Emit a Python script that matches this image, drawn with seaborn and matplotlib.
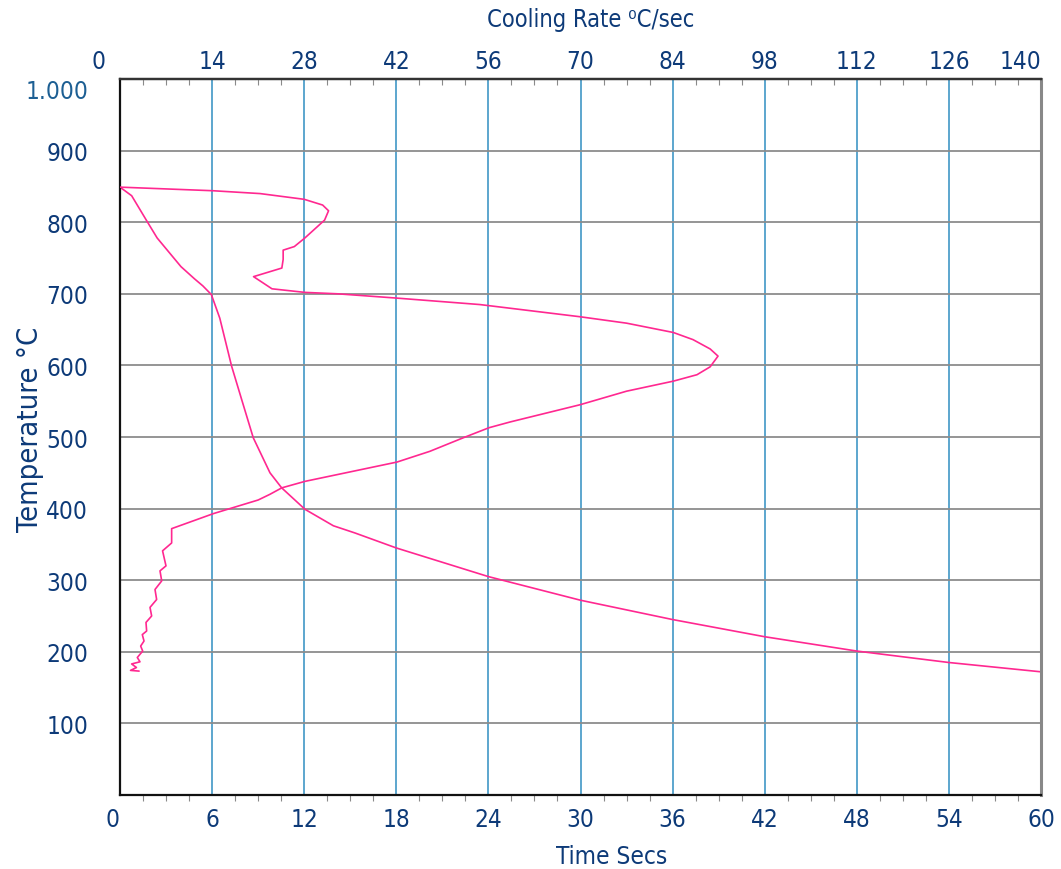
"""
Cooling curve of a quenched part: temperature against time (bottom axis)
and temperature against cooling rate (top axis).
"""
import matplotlib
matplotlib.use("Agg")
import matplotlib.pyplot as plt
from matplotlib.ticker import MultipleLocator
import pandas as pd
import seaborn as sns

# ------------------------------------------------------------------
# data
# ------------------------------------------------------------------
time_s = [0, 0.76, 1.74, 2.42, 3.97, 4.85, 5.4, 5.95, 6.5, 7.27, 7.93, 8.68,
          9.77, 10.53, 12.05, 13.9, 15.3, 18.0, 24.0, 30.0, 36.0, 42.0, 48.0, 54.0, 60.0]
time_temp = [849, 837, 802, 778, 738, 721, 711, 699, 666, 599, 552, 499,
             450, 429, 399, 376, 366, 345, 305, 272, 245, 221, 201, 185, 172]

rate = [0, 14.1, 21.3, 28.0, 30.8, 31.7, 31.1, 28.1, 26.5, 24.8, 24.8, 24.6,
        20.3, 23.1, 28.1, 33.1, 42.1, 54.7, 69.9, 77.0, 84.1, 87.1, 89.7, 90.9,
        89.7, 87.7, 84.1, 77.0, 69.9, 59.3, 56.1, 52.2, 47.1, 42.1, 28.1, 24.6,
        22.8, 21.0, 14.2, 7.85, 7.85, 6.47, 6.99, 6.08, 6.34, 5.32, 5.57, 4.56,
        4.81, 3.95, 4.05, 3.39, 3.65, 3.14, 3.45, 2.63, 3.04, 1.77, 2.5, 1.6, 2.9]
rate_temp = [849, 844, 840, 832, 824, 816, 803, 778, 766, 761, 748, 736,
             724, 707, 702, 700, 694, 685, 668, 659, 646, 636, 623, 613,
             598, 587, 578, 564, 545, 521, 513, 499, 480, 465, 438, 429,
             420, 412, 393, 372, 352, 341, 320, 313, 299, 287, 273, 262,
             250, 241, 229, 224, 215, 208, 201, 192, 186, 183, 178, 174, 173]

time_ticks = list(range(0, 61, 6))
rate_ticks = list(range(0, 141, 14))
temp_ticks = list(range(100, 1001, 100))
temp_labels = ["100", "200", "300", "400", "500", "600", "700", "800", "900", "1.000"]

cooling = pd.DataFrame({"time": time_s, "temp": time_temp})
rates = pd.DataFrame({"rate": rate, "temp": rate_temp})

# ------------------------------------------------------------------
# style
# ------------------------------------------------------------------
sns.set_theme(style="white")
plt.rcParams["font.family"] = ["Liberation Sans Narrow", "DejaVu Sans"]
plt.rcParams["font.stretch"] = "condensed"

NAVY = "#0d3a78"
PINK = "#ff2890"
GRID_BLUE = "#4f9fca"
GRID_GREY = "#8c8c8c"
TICK_GREY = "#8a8a8a"
TICK_SIZE = 17.5

fig = plt.figure(figsize=(10.61, 8.70), dpi=100)
ax = fig.add_axes([0.1131, 0.0851, 0.8681, 0.8229])
ax2 = ax.twiny()

sns.lineplot(data=cooling, x="time", y="temp", sort=False, estimator=None,
             color=PINK, lw=1.2, ax=ax)
sns.lineplot(data=rates, x="rate", y="temp", sort=False, estimator=None,
             color=PINK, lw=1.2, ax=ax2)

ax.set_xlim(0, 60)
ax.set_ylim(0, 1000)
ax2.set_xlim(0, 140)

ax.set_xticks(time_ticks)
ax.set_xticklabels([str(t) for t in time_ticks])
ax.set_yticks(temp_ticks)
ax.set_yticklabels(temp_labels)
ax2.set_xticks(rate_ticks)
top_labels = [str(r) for r in rate_ticks]
top_labels[0] = "0  "
ax2.set_xticklabels(top_labels)

ax.xaxis.set_minor_locator(MultipleLocator(1.5))
ax.yaxis.set_minor_locator(MultipleLocator(25))
ax2.xaxis.set_minor_locator(MultipleLocator(3.5))

# grid: blue verticals, grey horizontals
ax.set_axisbelow(True)
ax.xaxis.grid(True, which="major", color=GRID_BLUE, lw=1.3)
ax.yaxis.grid(True, which="major", color=GRID_GREY, lw=1.3)
ax2.grid(False)

ax.tick_params(axis="both", which="major", length=0, labelsize=TICK_SIZE, labelcolor=NAVY)
ax.tick_params(axis="x", which="major", pad=9)
ax.tick_params(axis="y", which="major", pad=23)
ax.tick_params(axis="both", which="minor", length=4, width=0.8, color=TICK_GREY,
               direction="out")
ax2.tick_params(axis="x", which="major", length=0, labelsize=TICK_SIZE, labelcolor=NAVY, pad=4)
ax2.tick_params(axis="x", which="minor", length=4, width=0.8, color=TICK_GREY,
                direction="in")

ax.get_yticklabels()[-1].set_color("#1d5f93")
ax.get_yticklabels()[-1].set_va("top")
ax2.get_xticklabels()[0].set_ha("right")
ax2.get_xticklabels()[-1].set_ha("right")
ax.get_xticklabels()[0].set_ha("right")

for name, sp in ax.spines.items():
    sp.set_visible(True)
    sp.set_color("#111111")
    sp.set_linewidth(1.6)
ax.spines["right"].set_color("#888888")
ax.spines["right"].set_linewidth(2.2)
for name, sp in ax2.spines.items():
    sp.set_visible(name == "top")
ax2.spines["top"].set_color("#333333")
ax2.spines["top"].set_linewidth(1.6)

ax.set_xlabel("")
ax.set_ylabel("")
ax2.set_xlabel("")

fig.text(0.576, 0.015, "Time Secs", color=NAVY, fontsize=17.5, ha="center", va="center")
fig.text(0.557, 0.977, "Cooling Rate \u2070C/sec", color=NAVY, fontsize=17,
         ha="center", va="center")
fig.text(0.028, 0.506, "Temperature \u00b0C", color=NAVY, fontsize=21,
         rotation=90, ha="center", va="center")

fig.savefig("out.png", dpi=100)
